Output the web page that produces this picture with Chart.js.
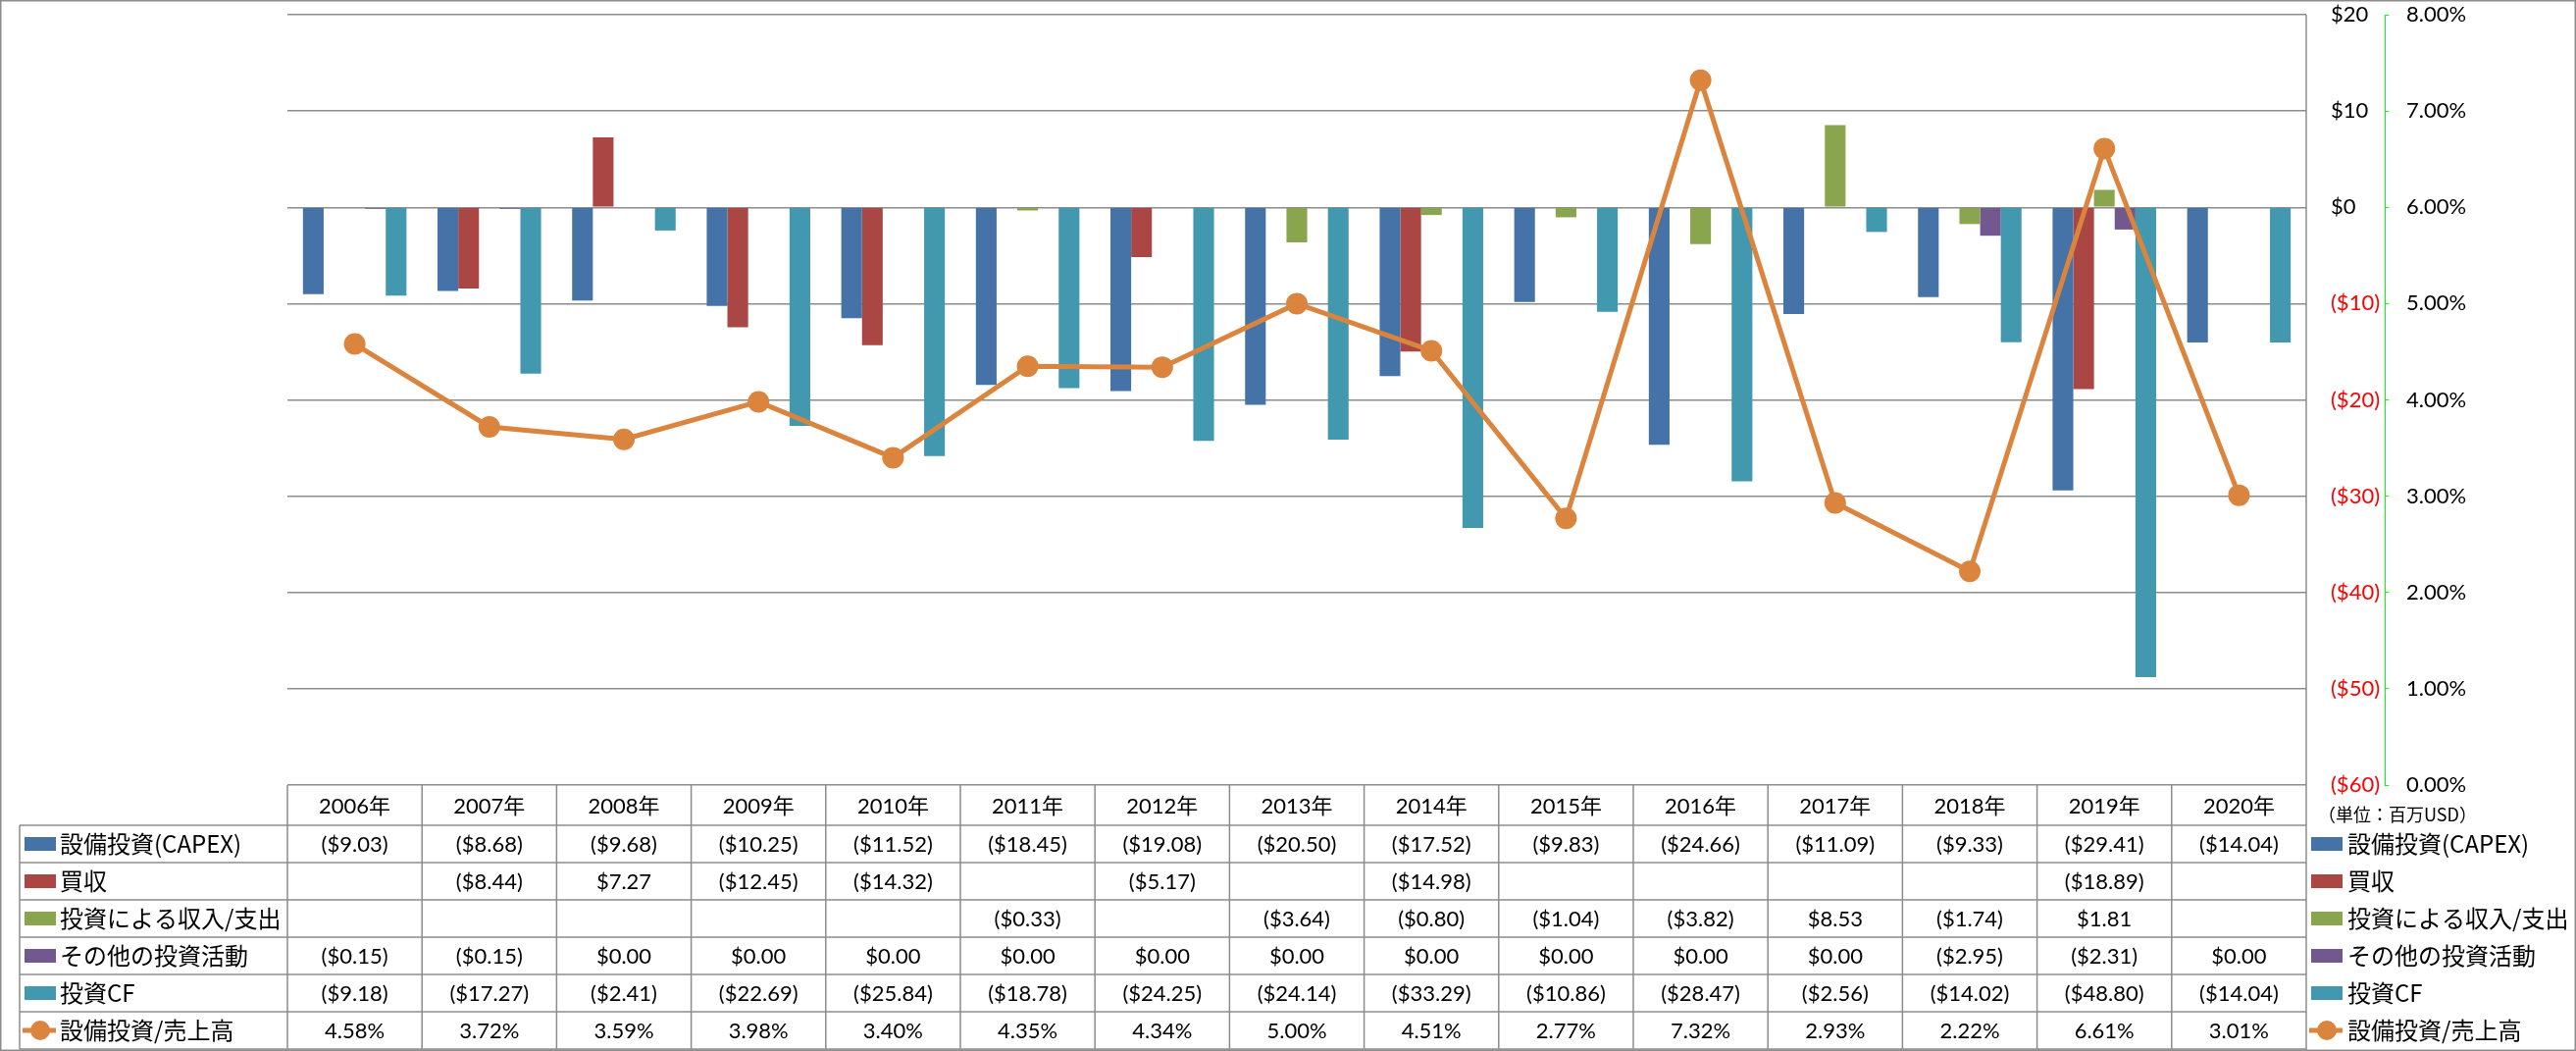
<!DOCTYPE html>
<html>
<head>
<meta charset="utf-8">
<script src="https://cdn.jsdelivr.net/npm/chart.js@4/dist/chart.umd.min.js"></script>
<style>
  html, body { margin: 0; padding: 0; background: #fff; }
  #wrap { width: 2626px; height: 1071px; position: relative; }
  canvas { display: block; }
</style>
</head>
<body>
<div id="wrap"><canvas id="c" width="2626" height="1071" style="width:2626px;height:1071px"></canvas></div>
<script>
// ---- data ----
const years = ['2006年','2007年','2008年','2009年','2010年','2011年','2012年','2013年','2014年','2015年','2016年','2017年','2018年','2019年','2020年'];
const capex        = [-9.03, -8.68, -9.68, -10.25, -11.52, -18.45, -19.08, -20.50, -17.52, -9.83, -24.66, -11.09, -9.33, -29.41, -14.04];
const acquisitions = [null, -8.44, 7.27, -12.45, -14.32, null, -5.17, null, -14.98, null, null, null, null, -18.89, null];
const investIncome = [null, null, null, null, null, -0.33, null, -3.64, -0.80, -1.04, -3.82, 8.53, -1.74, 1.81, null];
const otherInvest  = [-0.15, -0.15, 0.00, 0.00, 0.00, 0.00, 0.00, 0.00, 0.00, 0.00, 0.00, 0.00, -2.95, -2.31, 0.00];
const investCF     = [-9.18, -17.27, -2.41, -22.69, -25.84, -18.78, -24.25, -24.14, -33.29, -10.86, -28.47, -2.56, -14.02, -48.80, -14.04];
const capexRatio   = [4.58, 3.72, 3.59, 3.98, 3.40, 4.35, 4.34, 5.00, 4.51, 2.77, 7.32, 2.93, 2.22, 6.61, 3.01];

const seriesNames = ['設備投資(CAPEX)', '買収', '投資による収入/支出', 'その他の投資活動', '投資CF', '設備投資/売上高'];
const unitLabel = '（単位：百万USD）';
const moneyRange = [-60, 20, 10];   // min, max, step
const pctRange = [0, 8, 1];

// ---- style ----
const colors = ['#4572A7', '#AA4643', '#89A54E', '#71588F', '#4198AF', '#DB843D'];
const GRID = '#8c8c8c';
const NUMFONT = "22px Lato, 'Noto Sans CJK JP', sans-serif";
const LEGFONT = "24px 'Noto Sans CJK JP', sans-serif";

function fmtMoney(v) {
  if (v === null || v === undefined) return '';
  if (v < 0) return '($' + (-v).toFixed(2) + ')';
  return '$' + v.toFixed(2);
}
function fmtAxisMoney(v) {
  if (v < 0) return '($' + (-v) + ')';
  return '$' + v;
}

const tablePlugin = {
  id: 'dataTable',
  afterDraw(chart) {
    const c = chart.ctx;
    const area = chart.chartArea;
    const xs = chart.scales.x;
    const n = years.length;
    const colW = (area.right - area.left) / n;
    const tableTop = area.bottom;          // 800
    const headerBottom = tableTop + 41;
    const rowH = 38;
    const rows = 6;
    const tableBottom = headerBottom + rowH * rows;
    const legLeft = 20;

    c.save();
    c.strokeStyle = GRID;
    c.lineWidth = 1.5;
    // outer border
    c.strokeRect(0.75, 0.75, chart.width - 1.5, chart.height - 1.5);
    // plot right edge running down through the table
    c.beginPath();
    c.moveTo(area.right, area.top);
    c.lineTo(area.right, chart.height);
    c.stroke();
    // column lines
    for (let i = 0; i < n; i++) {
      const xl = xs.getPixelForValue(i) - colW / 2;
      c.beginPath();
      c.moveTo(xl, tableTop);
      c.lineTo(xl, tableBottom);
      c.stroke();
    }
    // legend column left line
    c.beginPath();
    c.moveTo(legLeft, headerBottom);
    c.lineTo(legLeft, tableBottom);
    c.stroke();
    // horizontal lines
    for (let r = 0; r <= rows; r++) {
      const y = headerBottom + r * rowH;
      c.beginPath();
      c.moveTo(legLeft, y);
      c.lineTo(area.right, y);
      c.stroke();
    }

    // header text
    c.fillStyle = '#000';
    c.font = NUMFONT;
    c.textAlign = 'center';
    c.textBaseline = 'middle';
    for (let i = 0; i < n; i++) {
      c.fillText(years[i], xs.getPixelForValue(i), (tableTop + headerBottom) / 2 + 1);
    }
    // values
    const tableSeries = [capex, acquisitions, investIncome, otherInvest, investCF];
    for (let r = 0; r < rows; r++) {
      const yc = headerBottom + r * rowH + rowH / 2 + 1;
      for (let i = 0; i < n; i++) {
        let txt;
        if (r < 5) txt = fmtMoney(tableSeries[r][i]);
        else txt = capexRatio[i].toFixed(2) + '%';
        c.fillText(txt, xs.getPixelForValue(i), yc);
      }
    }

    // legends (left inside table and right outside)
    function legendKey(x, yc, k) {
      if (k < 5) {
        c.fillStyle = colors[k];
        c.fillRect(x, yc - 7, 32, 14);
      } else {
        c.strokeStyle = colors[5];
        c.lineWidth = 5;
        c.beginPath();
        c.moveTo(x - 2, yc);
        c.lineTo(x + 32, yc);
        c.stroke();
        c.fillStyle = colors[5];
        c.beginPath();
        c.arc(x + 16, yc, 10, 0, Math.PI * 2);
        c.fill();
      }
    }
    c.font = LEGFONT;
    c.textAlign = 'left';
    for (let r = 0; r < rows; r++) {
      const yc = headerBottom + r * rowH + rowH / 2;
      legendKey(25, yc, r);
      c.fillStyle = '#000';
      c.fillText(seriesNames[r], 61, yc);
      legendKey(area.right + 5, yc, r);
      c.fillStyle = '#000';
      c.fillText(seriesNames[r], area.right + 42, yc);
    }

    // unit label
    c.font = "18px 'Noto Sans CJK JP', sans-serif";
    c.fillStyle = '#000';
    c.textAlign = 'left';
    c.fillText(unitLabel, area.right + 12, 830);
    c.restore();
  }
};

function noVPad(s, w) {
  s.width = w;
  s.paddingTop = 0;
  s.paddingBottom = 0;
}

const ctx = document.getElementById('c').getContext('2d');
new Chart(ctx, {
  type: 'bar',
  data: {
    labels: years,
    datasets: [
      { label: seriesNames[0], data: capex, backgroundColor: colors[0], yAxisID: 'y', order: 1 },
      { label: seriesNames[1], data: acquisitions, backgroundColor: colors[1], yAxisID: 'y', order: 1 },
      { label: seriesNames[2], data: investIncome, backgroundColor: colors[2], yAxisID: 'y', order: 1 },
      { label: seriesNames[3], data: otherInvest, backgroundColor: colors[3], yAxisID: 'y', order: 1 },
      { label: seriesNames[4], data: investCF, backgroundColor: colors[4], yAxisID: 'y', order: 1 },
      { type: 'line', label: seriesNames[5], data: capexRatio, yAxisID: 'y1', order: 0,
        borderColor: colors[5], backgroundColor: colors[5], borderWidth: 5, tension: 0,
        pointRadius: 11, pointBackgroundColor: colors[5], pointBorderColor: colors[5], pointBorderWidth: 0 }
    ]
  },
  options: {
    responsive: false,
    animation: false,
    devicePixelRatio: 1,
    layout: { padding: { left: 293, right: 75, top: 15, bottom: 271 } },
    plugins: { legend: { display: false }, tooltip: { enabled: false } },
    datasets: { bar: { categoryPercentage: 5 / 6.5, barPercentage: 1 } },
    scales: {
      x: { display: false },
      y: {
        position: 'right',
        min: moneyRange[0], max: moneyRange[1],
        ticks: {
          stepSize: moneyRange[2],
          padding: 25,
          font: { family: "Lato, 'Noto Sans CJK JP', sans-serif", size: 22 },
          color: (c) => (c.tick && c.tick.value < 0) ? '#FF0000' : '#000000',
          callback: (v) => fmtAxisMoney(v)
        },
        grid: { color: GRID, lineWidth: 1.5, drawTicks: false },
        border: { display: false },
        afterFit: (s) => noVPad(s, 80)
      },
      y1: {
        position: 'right',
        min: pctRange[0], max: pctRange[1],
        ticks: {
          stepSize: pctRange[2],
          padding: 15,
          font: { family: "Lato, 'Noto Sans CJK JP', sans-serif", size: 22 },
          color: '#000000',
          callback: (v) => v.toFixed(2) + '%'
        },
        grid: { drawOnChartArea: false, drawTicks: true, tickLength: 7, tickColor: '#00ff00', tickWidth: 1, tickBorderDash: [3, 3] },
        border: { display: true, color: '#00ff00', width: 1, dash: [4, 4] },
        afterFit: (s) => noVPad(s, 120)
      }
    }
  },
  plugins: [tablePlugin]
});
</script>
</body>
</html>
